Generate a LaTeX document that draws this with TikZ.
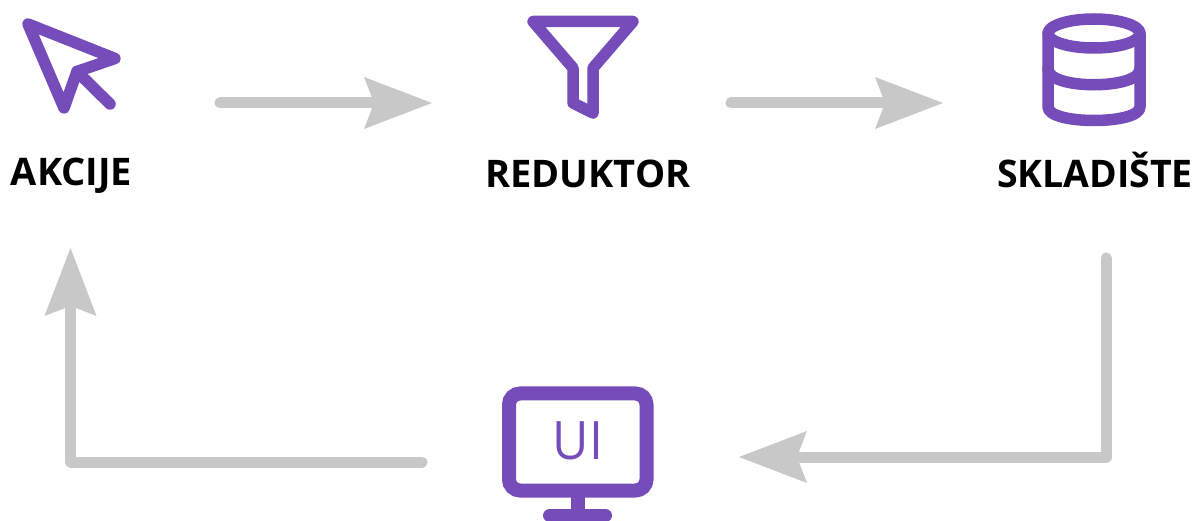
\documentclass[tikz,border=0pt]{standalone}
\usepackage{fontspec}
\setmainfont{Open Sans}
\usetikzlibrary{arrows.meta}
\definecolor{iconpurple}{HTML}{754CB9}
\definecolor{flowgray}{HTML}{C8C8C8}
\tikzset{
  icon/.style={draw=iconpurple,line width=11.5pt,line join=round,line cap=round},
  flow/.style={draw=flowgray,line width=11pt,line cap=round,line join=round,
    -{Stealth[length=68pt,width=52pt,inset=10pt,line width=0pt,fill=flowgray]}},
  title/.style={anchor=base,inner sep=0pt,text=black,font=\fontsize{38}{42}\selectfont\bfseries},
}
\begin{document}
\begin{tikzpicture}[x=1pt,y=-1pt]
\useasboundingbox (0,0) rectangle (1203,521);
% cursor
\draw[icon] (28,24) -- (115,58.5) -- (77,71.5) -- (64,108) -- cycle;
\draw[icon] (77,71.5) -- (110,104);
% funnel
\draw[icon] (533,21.5) -- (633,21.5) -- (593,68) -- (593,113) -- (573,103) -- (573,68) -- cycle;
% database
\draw[icon] (1094,33.5) ellipse [x radius=46,y radius=14.5];
\draw[icon] (1048,33.5) -- (1048,107) .. controls (1048,125) and (1140,125) .. (1140,107) -- (1140,33.5);
\draw[icon] (1048,69) .. controls (1048,90) and (1140,90) .. (1140,69);
% monitor
\draw[draw=iconpurple,line width=14pt,rounded corners=11pt] (509,393.5) rectangle (646.5,490.5);
\fill[iconpurple] (571,495) rectangle (585,512);
\draw[draw=iconpurple,line width=13pt,line cap=round] (549.5,515.5) -- (605.5,515.5);
\node[anchor=base,inner sep=0pt,text=iconpurple,yscale=1.06,font=\fontsize{50}{54}\selectfont] (ui) at (578,460) {UI};
% labels
\node[title] (akcije) at (71.5,186) {AKCIJE};
\node[title] (reduktor) at (588,188) {REDUKTOR};
\node[title,xscale=.985] (skladiste) at (1095,188) {SKLADIŠTE};
% connector ends
\coordinate (a1) at (220,103); \coordinate (a2) at (432,103);
\coordinate (b1) at (731,103); \coordinate (b2) at (943,103);
\coordinate (c1) at (1106,258); \coordinate (cc) at (1106,457); \coordinate (c2) at (739,457);
\coordinate (d1) at (422,462); \coordinate (dd) at (70.5,462); \coordinate (d2) at (70.5,248);
\draw[flow] (a1) -- (a2);
\draw[flow] (b1) -- (b2);
\draw[flow] (c1) -- (cc) -- (c2);
\draw[flow] (d1) -- (dd) -- (d2);
\end{tikzpicture}
\end{document}
